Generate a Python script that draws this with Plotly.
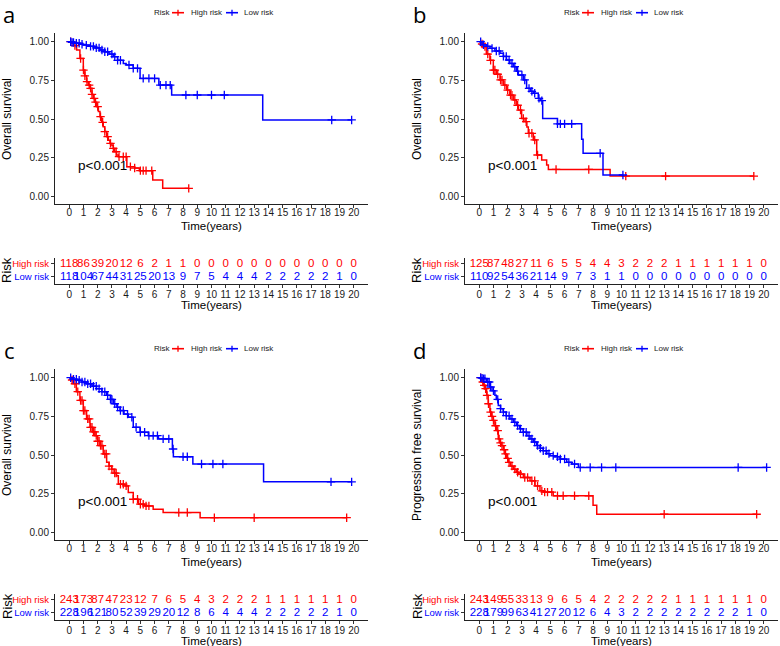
import plotly.graph_objects as go

W, H = 780, 646
RED, BLUE = "#FF0000", "#0000FF"

# ---------------- data ----------------
years = list(range(0, 21))
legend_title = "Risk"
group_names = ["High risk", "Low risk"]

# Panel a (Overall survival)
a_high_t = [0, 0.15, 0.3, 0.52, 0.75, 0.99, 1.1, 1.22, 1.35, 1.46, 1.6, 1.69, 1.8, 1.92, 2.05, 2.16, 2.28, 2.39, 2.5, 2.63, 2.75, 2.86, 3.0, 3.1, 3.2, 3.33, 3.45, 4.05, 4.6, 4.93, 5.87, 6.57, 8.4]
a_high_s = [1.0, 0.99, 0.975, 0.946, 0.892, 0.817, 0.78, 0.742, 0.72, 0.699, 0.66, 0.634, 0.61, 0.581, 0.55, 0.516, 0.48, 0.452, 0.42, 0.387, 0.365, 0.344, 0.33, 0.312, 0.29, 0.269, 0.258, 0.194, 0.185, 0.168, 0.108, 0.054, 0.054]
a_high_c = [0.1, 0.4, 0.8, 1.0, 1.1, 1.25, 1.4, 1.5, 1.6, 1.75, 1.85, 2.0, 2.2, 2.35, 2.5, 2.7, 2.9, 3.1, 3.3, 3.5, 3.8, 4.0, 4.3, 4.6, 5.0, 5.2, 5.4, 5.8, 8.4]
a_low_t = [0, 0.2, 0.5, 0.8, 1.0, 1.4, 1.8, 2.16, 2.5, 2.8, 3.1, 3.4, 3.8, 4.0, 4.5, 4.98, 6.3, 7.2, 13.6, 19.85]
a_low_s = [1.0, 0.995, 0.99, 0.983, 0.978, 0.97, 0.96, 0.946, 0.935, 0.92, 0.903, 0.88, 0.86, 0.85, 0.828, 0.763, 0.72, 0.656, 0.495, 0.495]
a_low_c = [0.1, 0.2, 0.3, 0.5, 0.7, 0.9, 1.2, 1.5, 1.7, 1.9, 2.1, 2.3, 2.5, 2.7, 3.0, 3.2, 3.4, 3.6, 4.2, 4.5, 4.8, 5.2, 5.6, 6.0, 6.4, 6.8, 7.1, 8.2, 9.0, 10.0, 10.9, 18.45, 19.85]
a_risk_high = [118, 86, 39, 20, 12, 6, 2, 1, 1, 0, 0, 0, 0, 0, 0, 0, 0, 0, 0, 0, 0]
a_risk_low = [118, 104, 67, 44, 31, 25, 20, 13, 9, 7, 5, 4, 4, 4, 2, 2, 2, 2, 2, 1, 0]

# Panel b (Overall survival)
b_high_t = [0, 0.15, 0.28, 0.5, 0.75, 0.99, 1.2, 1.46, 1.7, 1.92, 2.15, 2.39, 2.6, 2.75, 2.98, 3.22, 3.35, 3.45, 3.8, 4.04, 4.39, 4.74, 4.86, 9.2, 19.3]
b_high_s = [1.0, 0.985, 0.968, 0.92, 0.88, 0.817, 0.79, 0.753, 0.72, 0.688, 0.655, 0.624, 0.59, 0.559, 0.505, 0.484, 0.45, 0.409, 0.366, 0.269, 0.237, 0.204, 0.176, 0.133, 0.133]
b_high_c = [0.2, 0.4, 0.6, 0.8, 1.0, 1.1, 1.3, 1.5, 1.6, 1.8, 2.0, 2.2, 2.3, 2.5, 2.7, 2.9, 3.1, 3.3, 3.5, 3.7, 3.9, 4.1, 5.4, 7.7, 10.3, 13.1, 19.3]
b_low_t = [0, 0.2, 0.5, 0.75, 1.1, 1.46, 1.7, 1.92, 2.15, 2.39, 2.6, 2.75, 3.1, 3.33, 3.6, 3.8, 4.15, 4.3, 4.46, 5.5, 7.2, 7.3, 8.7, 10.1]
b_low_s = [1.0, 0.98, 0.97, 0.957, 0.94, 0.925, 0.905, 0.882, 0.86, 0.839, 0.81, 0.785, 0.753, 0.699, 0.68, 0.667, 0.634, 0.62, 0.505, 0.47, 0.37, 0.28, 0.14, 0.14]
b_low_c = [0.1, 0.3, 0.6, 0.9, 1.2, 1.4, 1.7, 1.9, 2.1, 2.3, 2.5, 2.7, 3.0, 3.2, 3.5, 3.7, 3.9, 4.2, 4.4, 5.5, 5.7, 6.0, 6.5, 8.5, 10.1]
b_risk_high = [125, 87, 48, 27, 11, 6, 5, 5, 4, 4, 3, 2, 2, 2, 1, 1, 1, 1, 1, 1, 0]
b_risk_low = [110, 92, 54, 36, 21, 14, 9, 7, 3, 1, 1, 0, 0, 0, 0, 0, 0, 0, 0, 0, 0]

# Panel c (Overall survival)
c_high_t = [0, 0.15, 0.28, 0.5, 0.75, 0.99, 1.22, 1.46, 1.65, 1.81, 2.0, 2.16, 2.39, 2.63, 2.8, 2.98, 3.15, 3.33, 3.45, 3.92, 4.15, 4.5, 4.86, 5.3, 5.9, 6.6, 9.2, 19.5]
c_high_s = [1.0, 0.985, 0.961, 0.91, 0.853, 0.788, 0.734, 0.68, 0.65, 0.626, 0.59, 0.562, 0.508, 0.454, 0.43, 0.41, 0.385, 0.367, 0.313, 0.302, 0.259, 0.216, 0.184, 0.173, 0.151, 0.13, 0.097, 0.097]
c_high_c = [0.2, 0.4, 0.6, 0.8, 0.9, 1.0, 1.1, 1.3, 1.4, 1.5, 1.6, 1.7, 1.8, 1.9, 2.0, 2.1, 2.2, 2.3, 2.5, 2.6, 2.8, 3.0, 3.2, 3.3, 3.6, 3.8, 4.0, 4.5, 4.8, 5.0, 5.2, 5.4, 5.6, 7.7, 8.3, 10.2, 13.0, 19.5]
c_low_t = [0, 0.2, 0.52, 0.9, 1.22, 1.6, 1.92, 2.3, 2.63, 2.9, 3.1, 3.35, 3.57, 3.85, 4.15, 4.5, 4.98, 5.56, 6.27, 7.25, 7.32, 8.69, 13.66, 19.85]
c_low_s = [1.0, 0.99, 0.983, 0.972, 0.961, 0.945, 0.929, 0.91, 0.886, 0.86, 0.832, 0.81, 0.788, 0.765, 0.745, 0.68, 0.648, 0.626, 0.605, 0.54, 0.49, 0.443, 0.328, 0.328]
c_low_c = [0.1, 0.3, 0.5, 0.7, 0.9, 1.1, 1.3, 1.5, 1.7, 1.9, 2.1, 2.3, 2.5, 2.7, 2.9, 3.0, 3.2, 3.4, 3.6, 3.8, 4.1, 4.4, 4.7, 5.0, 5.3, 5.6, 5.9, 6.2, 6.6, 7.0, 7.3, 8.0, 8.3, 9.3, 10.1, 10.8, 18.4, 19.85]
c_risk_high = [243, 173, 87, 47, 23, 12, 7, 6, 5, 4, 3, 2, 2, 2, 1, 1, 1, 1, 1, 1, 0]
c_risk_low = [228, 196, 121, 80, 52, 39, 29, 20, 12, 8, 6, 4, 4, 4, 2, 2, 2, 2, 2, 1, 0]

# Panel d (Progression free survival)
d_high_t = [0, 0.16, 0.3, 0.4, 0.52, 0.63, 0.75, 0.87, 0.99, 1.1, 1.22, 1.34, 1.45, 1.57, 1.7, 1.81, 1.92, 2.04, 2.2, 2.39, 2.6, 2.75, 3.1, 3.57, 3.92, 4.27, 4.5, 5.2, 8.0, 8.26, 19.5]
d_high_s = [1.0, 0.972, 0.95, 0.929, 0.886, 0.832, 0.778, 0.75, 0.724, 0.69, 0.659, 0.605, 0.58, 0.562, 0.535, 0.508, 0.48, 0.454, 0.43, 0.41, 0.39, 0.378, 0.356, 0.335, 0.302, 0.27, 0.262, 0.238, 0.177, 0.119, 0.119]
d_high_c = [0.1, 0.25, 0.35, 0.45, 0.55, 0.65, 0.8, 0.9, 1.0, 1.15, 1.3, 1.4, 1.5, 1.6, 1.75, 1.85, 2.0, 2.1, 2.3, 2.5, 2.7, 2.9, 3.2, 3.4, 3.7, 3.9, 4.1, 4.4, 4.6, 4.8, 5.1, 5.5, 5.9, 6.7, 7.7, 13.0, 19.5]
d_low_t = [0, 0.15, 0.28, 0.52, 0.75, 0.9, 1.1, 1.2, 1.34, 1.5, 1.69, 1.9, 2.16, 2.4, 2.63, 2.85, 3.1, 3.35, 3.57, 3.8, 4.04, 4.27, 4.5, 4.75, 4.98, 5.3, 5.68, 6.15, 6.5, 6.97, 20.2]
d_low_s = [1.0, 0.997, 0.994, 0.972, 0.94, 0.915, 0.886, 0.86, 0.82, 0.8, 0.778, 0.755, 0.734, 0.712, 0.691, 0.67, 0.648, 0.625, 0.605, 0.585, 0.562, 0.545, 0.529, 0.51, 0.497, 0.49, 0.475, 0.454, 0.443, 0.421, 0.421]
d_low_c = [0.1, 0.2, 0.3, 0.4, 0.6, 0.7, 0.8, 1.0, 1.3, 1.5, 1.7, 1.9, 2.1, 2.3, 2.5, 2.7, 2.9, 3.1, 3.3, 3.5, 3.7, 3.9, 4.1, 4.3, 4.5, 4.7, 4.9, 5.2, 5.5, 5.7, 6.0, 6.3, 6.7, 7.1, 7.8, 8.6, 9.6, 18.2, 20.2]
d_risk_high = [243, 149, 55, 33, 13, 9, 6, 5, 4, 2, 2, 2, 2, 2, 1, 1, 1, 1, 1, 1, 0]
d_risk_low = [228, 179, 99, 63, 41, 27, 20, 12, 6, 4, 3, 2, 2, 2, 2, 2, 2, 2, 2, 1, 0]

panels = [
    dict(letter="a", ytitle="Overall survival", high=(a_high_t, a_high_s, a_high_c), low=(a_low_t, a_low_s, a_low_c), rh=a_risk_high, rl=a_risk_low),
    dict(letter="b", ytitle="Overall survival", high=(b_high_t, b_high_s, b_high_c), low=(b_low_t, b_low_s, b_low_c), rh=b_risk_high, rl=b_risk_low),
    dict(letter="c", ytitle="Overall survival", high=(c_high_t, c_high_s, c_high_c), low=(c_low_t, c_low_s, c_low_c), rh=c_risk_high, rl=c_risk_low),
    dict(letter="d", ytitle="Progression free survival", high=(d_high_t, d_high_s, d_high_c), low=(d_low_t, d_low_s, d_low_c), rh=d_risk_high, rl=d_risk_low),
]


def step_at(ts, ss, t):
    v = ss[0]
    for ti, si in zip(ts, ss):
        if ti <= t:
            v = si
        else:
            break
    return v


def X(px):
    return px / W


def Y(py):
    return 1 - py / H


fig = go.Figure()
FONT = "Liberation Sans, Arial, sans-serif"
TXT = "#1a1a1a"

offsets = [(0, 0), (410, 0), (0, 336), (410, 336)]
ann = []
shapes = []
for i, (p, (ox, oy)) in enumerate(zip(panels, offsets)):
    km = 2 * i + 1
    rk = 2 * i + 2
    kx = "x" if km == 1 else f"x{km}"
    ky = "y" if km == 1 else f"y{km}"
    rx, ry = f"x{rk}", f"y{rk}"

    for (ts, ss, cs), col in [(p["high"], RED), (p["low"], BLUE)]:
        fig.add_trace(go.Scatter(x=ts, y=ss, mode="lines", line=dict(color=col, width=1.5, shape="hv"),
                                 xaxis=kx, yaxis=ky, showlegend=False, hoverinfo="skip"))
        fig.add_trace(go.Scatter(x=cs, y=[step_at(ts, ss, c) for c in cs], mode="markers",
                                 marker=dict(symbol="cross-thin", size=6, color=col, line=dict(color=col, width=1.3)),
                                 xaxis=kx, yaxis=ky, showlegend=False, hoverinfo="skip"))

    fig.add_trace(go.Scatter(x=years, y=[2] * len(years), mode="text", text=[str(v) for v in p["rh"]],
                             textfont=dict(color=RED, size=11.5, family=FONT), xaxis=rx, yaxis=ry,
                             showlegend=False, hoverinfo="skip", cliponaxis=False))
    fig.add_trace(go.Scatter(x=years, y=[1] * len(years), mode="text", text=[str(v) for v in p["rl"]],
                             textfont=dict(color=BLUE, size=11.5, family=FONT), xaxis=rx, yaxis=ry,
                             showlegend=False, hoverinfo="skip", cliponaxis=False))

    x0, x1 = 55 + ox, 368 + ox
    common = dict(showline=True, linecolor="#222222", linewidth=1, ticks="outside", ticklen=3,
                  tickcolor="#333333", tickwidth=1, showgrid=False, zeroline=False,
                  tickfont=dict(size=10, color=TXT, family=FONT))
    kxname = "xaxis" if km == 1 else f"xaxis{km}"
    kyname = "yaxis" if km == 1 else f"yaxis{km}"
    fig.update_layout({
        kxname: dict(domain=[X(x0), X(x1)], range=[-1, 21], tickvals=years, anchor=ky,
                     ticklabelstandoff=-4, **common),
        kyname: dict(domain=[Y(204 + oy), Y(33 + oy)], range=[-0.047, 1.056],
                     tickvals=[0, 0.25, 0.5, 0.75, 1.0], ticktext=["0.00", "0.25", "0.50", "0.75", "1.00"],
                     anchor=kx, **common),
        f"xaxis{rk}": dict(domain=[X(x0), X(x1)], range=[-1, 21], tickvals=years, anchor=ry,
                           ticklabelstandoff=-2, **common),
        f"yaxis{rk}": dict(domain=[Y(284 + oy), Y(258 + oy)], range=[0.45, 2.45], tickvals=[1, 2],
                           ticktext=[f"<span style='color:{BLUE}'>{group_names[1]}</span>",
                                     f"<span style='color:{RED}'>{group_names[0]}</span>"],
                           anchor=rx, **{**common, "tickfont": dict(size=9.5, family=FONT)}),
    })

    # manual legend (key: short line with a cross)
    ly = Y(12.7 + oy)
    ann.append(dict(text=legend_title, x=X(151.5 + ox), y=ly, xref="paper", yref="paper", showarrow=False,
                    xanchor="left", yanchor="middle", font=dict(size=8, family=FONT, color=TXT)))
    for (kx0, tx, name, col) in [(172, 189, group_names[0], RED), (226, 242, group_names[1], BLUE)]:
        shapes.append(dict(type="line", xref="paper", yref="paper", x0=X(kx0 + ox), x1=X(kx0 + 12 + ox),
                           y0=ly, y1=ly, line=dict(color=col, width=1.6)))
        shapes.append(dict(type="line", xref="paper", yref="paper", x0=X(kx0 + 6 + ox), x1=X(kx0 + 6 + ox),
                           y0=Y(9.7 + oy), y1=Y(15.7 + oy), line=dict(color=col, width=1.3)))
        ann.append(dict(text=name, x=X(tx + ox), y=ly, xref="paper", yref="paper", showarrow=False,
                        xanchor="left", yanchor="middle", font=dict(size=8, family=FONT, color=TXT)))

    # panel letter
    ann.append(dict(text=p["letter"], x=X(9 + ox), y=Y(14 + oy), xref="paper", yref="paper",
                    showarrow=False, font=dict(size=22, family="Open Sans, sans-serif", color="black"),
                    xanchor="center", yanchor="middle", borderpad=0))
    # p-value
    ann.append(dict(text="p<0.001", x=0.45, y=0.2, xref=kx, yref=ky, showarrow=False, xanchor="left",
                    yanchor="middle", font=dict(size=13.5, family=FONT, color="black")))
    # axis titles
    ann.append(dict(text=p["ytitle"], x=X(7 + ox), y=Y(119 + oy), xref="paper", yref="paper", textangle=-90,
                    showarrow=False, xanchor="center", yanchor="middle", font=dict(size=12, family=FONT, color="black")))
    ann.append(dict(text="Time(years)", x=X(211.5 + ox), y=Y(226 + oy), xref="paper", yref="paper",
                    showarrow=False, xanchor="center", yanchor="middle", font=dict(size=11.5, family=FONT, color="black")))
    ann.append(dict(text="Time(years)", x=X(211.5 + ox), y=Y(305 + oy), xref="paper", yref="paper",
                    showarrow=False, xanchor="center", yanchor="middle", font=dict(size=11.5, family=FONT, color="black")))
    ann.append(dict(text="Risk", x=X(7 + ox), y=Y(270 + oy), xref="paper", yref="paper", textangle=-90,
                    showarrow=False, xanchor="center", yanchor="middle", font=dict(size=13, family=FONT, color="black")))

fig.update_layout(width=W, height=H, margin=dict(l=0, r=0, t=0, b=0), plot_bgcolor="white",
                  paper_bgcolor="white", annotations=ann, shapes=shapes, showlegend=False,
                  hovermode=False, font=dict(family=FONT))
fig.write_html("out.html", config={"displayModeBar": False, "staticPlot": True},
               post_script="document.body.style.margin='0';document.body.style.overflow='hidden';")
